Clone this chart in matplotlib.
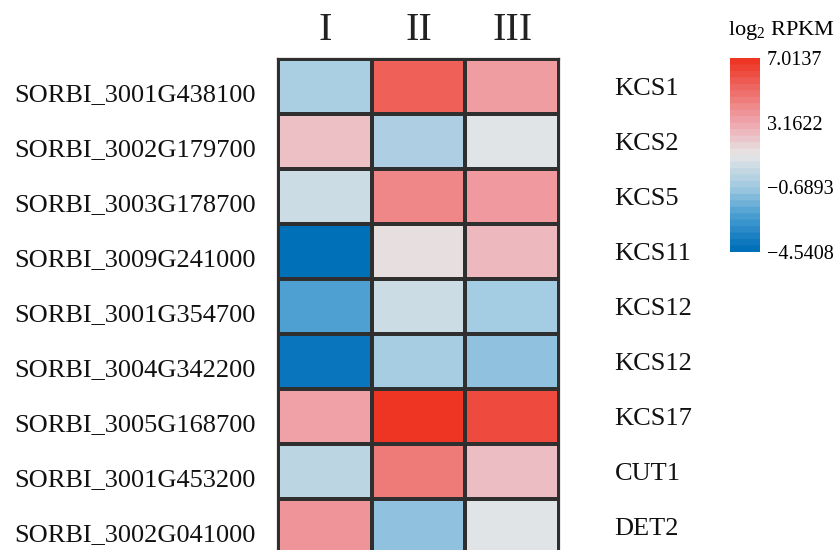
import matplotlib.pyplot as plt
import matplotlib.transforms as mtransforms
import numpy as np
from matplotlib.colors import LinearSegmentedColormap, BoundaryNorm

genes = ["SORBI_3001G438100", "SORBI_3002G179700", "SORBI_3003G178700",
         "SORBI_3009G241000", "SORBI_3001G354700", "SORBI_3004G342200",
         "SORBI_3005G168700", "SORBI_3001G453200", "SORBI_3002G041000"]
names = ["KCS1", "KCS2", "KCS5", "KCS11", "KCS12", "KCS12", "KCS17", "CUT1", "DET2"]
groups = ["I", "II", "III"]

# log2 RPKM
vals_I = [-0.5, 2.4, 0.5, -4.5, -2.4, -4.3, 3.4, 0.0, 3.8]
vals_II = [5.6, -0.4, 4.3, 1.5, 0.5, -0.6, 7.0, 4.7, -1.1]
vals_III = [3.5, 1.1, 3.6, 2.6, -0.7, -1.1, 6.3, 2.5, 1.1]

vmin, vmax = -4.5408, 7.0137
cbar_ticks = [7.0137, 3.1622, -0.6893, -4.5408]

data = np.array([vals_I, vals_II, vals_III]).T

cmap = LinearSegmentedColormap.from_list("rpkm", [
    (0.0, "#0070B9"), (0.18, "#4C9FD2"), (0.33, "#A3CBE2"),
    (0.5, "#E6E6E6"), (0.67, "#F0A6AE"), (0.85, "#EE6A64"), (1.0, "#EE3524")])

plt.rcParams['font.family'] = ['Liberation Serif', 'DejaVu Serif']

W, H = 835, 550
fig = plt.figure(figsize=(W / 100, H / 100), dpi=100)

# heatmap
ax = fig.add_axes([278 / W, (H - 554) / H, (559 - 278) / W, (554 - 59) / H])
ax.pcolormesh(data, cmap=cmap, vmin=vmin, vmax=vmax, edgecolors="#2f2f2f", linewidth=1.6)
ax.set_xlim(0, 3)
ax.set_ylim(len(genes), 0)
ax.set_xticks(np.arange(3) + 0.5)
ax.set_xticklabels(groups, fontsize=29, color="#222222")
ax.xaxis.tick_top()
ax.tick_params(axis="x", length=0, pad=7)
ax.set_yticks(np.arange(len(genes)) + 0.5)
ax.set_yticklabels(genes, fontsize=19, color="#111111")
ax.tick_params(axis="y", length=0, pad=16)
# gene ids sit a little below the row centre in the original
shift = mtransforms.ScaledTranslation(0, -6 / 100, fig.dpi_scale_trans)
for lab in ax.get_yticklabels():
    lab.set_transform(lab.get_transform() + shift)
for s in ax.spines.values():
    s.set_color("#2f2f2f")
    s.set_linewidth(1.6)

ax2 = ax.twinx()
ax2.set_ylim(len(genes), 0)
ax2.set_yticks(np.arange(len(genes)) + 0.5)
ax2.set_yticklabels(names, fontsize=19, color="#111111")
ax2.tick_params(axis="y", length=0, pad=40)
for s in ax2.spines.values():
    s.set_visible(False)

# colour bar
cax = fig.add_axes([730 / W, (H - 252) / H, 30 / W, 194 / H])
levels = np.linspace(vmin, vmax, 31)
grad = np.linspace(vmin, vmax, 300).reshape(-1, 1)
cax.imshow(grad, aspect="auto", origin="lower", cmap=cmap,
           norm=BoundaryNorm(levels, cmap.N), extent=[0, 1, vmin, vmax])
cax.set_xticks([])
cax.yaxis.tick_right()
cax.set_yticks(cbar_ticks)
cax.set_yticklabels([f"{t:.4f}".replace("-", "\u2212") for t in cbar_ticks], fontsize=14.5)
cax.tick_params(axis="y", length=0, pad=5)
for s in cax.spines.values():
    s.set_visible(False)
cax.set_ylim(vmin, vmax)
cax.text(-0.05, 1.08, r"log$_\mathregular{2}$ RPKM", transform=cax.transAxes,
         fontsize=16, ha="left", va="bottom")

fig.savefig("out.png", dpi=100)
